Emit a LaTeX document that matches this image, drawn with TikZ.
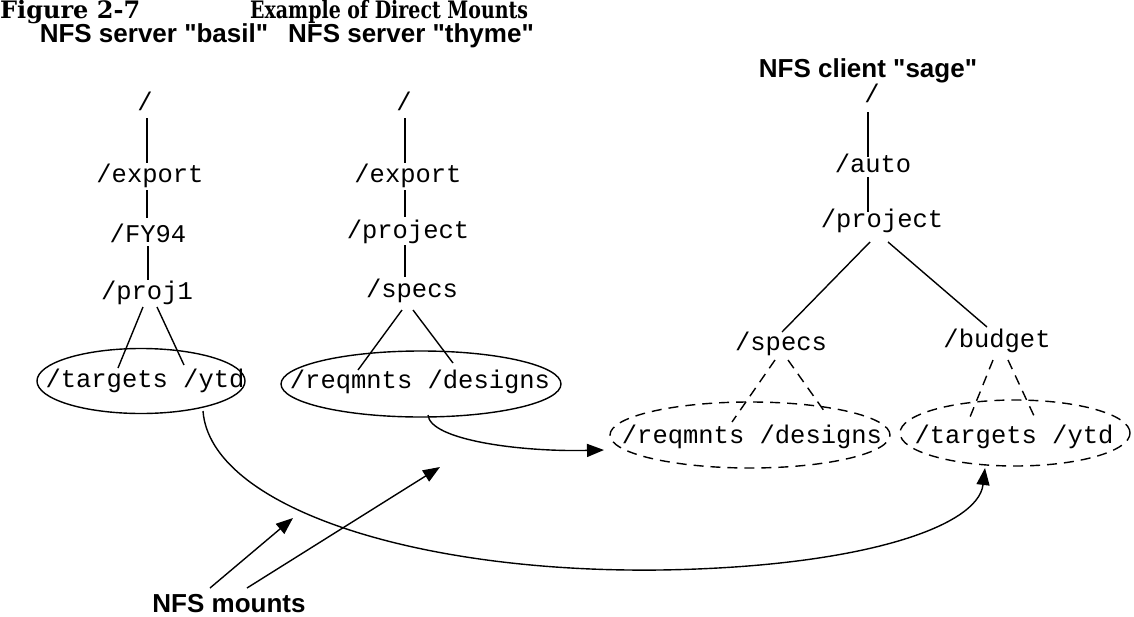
\documentclass[tikz,border=0pt]{standalone}
\usepackage{fontspec}
\setmainfont{DejaVu Serif}
\newfontfamily\figfont{DejaVu Serif}
\newfontfamily\exfont[FakeStretch=0.79]{DejaVu Serif}
\newfontfamily\lblfont{Liberation Sans}
\newfontfamily\dirfont{Liberation Mono}
\usetikzlibrary{arrows.meta,shapes.geometric}
\tikzset{
  titletext/.style={anchor=base west, inner sep=0pt},
  hdr/.style={font=\lblfont\fontsize{26}{26}\selectfont\bfseries, anchor=base, inner sep=0pt},
  dir/.style={font=\dirfont\fontsize{25.5}{25.5}\selectfont, anchor=base, inner sep=0pt},
  tree/.style={line width=1.4pt},
  dtree/.style={line width=1.4pt, dash pattern=on 10pt off 7pt},
  mnt/.style={ellipse, draw, line width=1.4pt, inner sep=0pt},
  mntd/.style={mnt, dash pattern=on 10pt off 7pt},
  arr/.style={line width=1.4pt, -{Triangle[length=17pt,width=13pt]}}
}
\begin{document}
\begin{tikzpicture}[x=1pt,y=-1pt]
\useasboundingbox (0,0) rectangle (1134,616);
% titles
\node[titletext, font=\figfont\fontsize{24}{24}\selectfont\bfseries] (fig) at (0,18) {Figure 2-7};
\node[titletext, font=\exfont\fontsize{24}{24}\selectfont\bfseries] (ttl) at (250,18) {Example of Direct Mounts};
\node[hdr] (hbasil) at (154,42) {NFS server "basil"};
\node[hdr] (hthyme) at (411,42) {NFS server "thyme"};
\node[hdr] (hsage) at (868,77) {NFS client "sage"};
\node[hdr] (hmnt) at (229,612) {NFS mounts};

% ellipses
\node[mnt, minimum width=208pt, minimum height=65pt] (be) at (141,381) {};
\node[mnt, minimum width=280pt, minimum height=66pt] (te) at (421,384) {};
\node[mntd, minimum width=280pt, minimum height=66pt] (se) at (750,435) {};
\node[mntd, minimum width=230pt, minimum height=66pt] (ge) at (1015,433) {};

% basil tree
\node[dir] (b0) at (145,110) {/};
\node[dir] (b1) at (150,182) {/export};
\node[dir] (b2) at (148,242) {/FY94};
\node[dir] (b3) at (147,299) {/proj1};
\node[dir] (b4) at (145,387) {/targets /ytd};
\coordinate (b01) at (147,118); \coordinate (b10) at (147,163);
\coordinate (b12) at (147,190); \coordinate (b21) at (147,218);
\coordinate (b23) at (148,246); \coordinate (b32) at (148,280);
\coordinate (b3l) at (143,307); \coordinate (btl) at (118,368);
\coordinate (b3r) at (157,307); \coordinate (bty) at (184,365);
\draw[tree] (b01) -- (b10);
\draw[tree] (b12) -- (b21);
\draw[tree] (b23) -- (b32);
\draw[tree] (b3l) -- (btl);
\draw[tree] (b3r) -- (bty);

% thyme tree
\node[dir] (t0) at (404,110) {/};
\node[dir] (t1) at (408,182) {/export};
\node[dir] (t2) at (408,238) {/project};
\node[dir] (t3) at (412,297) {/specs};
\node[dir] (t4) at (420,388) {/reqmnts /designs};
\coordinate (t01) at (405,118); \coordinate (t10) at (405,163);
\coordinate (t12) at (405,190); \coordinate (t21) at (405,217);
\coordinate (t23) at (405,245); \coordinate (t32) at (405,277);
\coordinate (t3l) at (402,310); \coordinate (ttr) at (358,370);
\coordinate (t3r) at (413,310); \coordinate (ttd) at (453,363);
\draw[tree] (t01) -- (t10);
\draw[tree] (t12) -- (t21);
\draw[tree] (t23) -- (t32);
\draw[tree] (t3l) -- (ttr);
\draw[tree] (t3r) -- (ttd);

% sage tree
\node[dir] (s0) at (872,102) {/};
\node[dir] (s1) at (873,172) {/auto};
\node[dir] (s2) at (882,227) {/project};
\node[dir] (s3) at (781,350) {/specs};
\node[dir] (s4) at (997,347) {/budget};
\node[dir] (s5) at (752,443) {/reqmnts /designs};
\node[dir] (s6) at (1014,443) {/targets /ytd};
\coordinate (s01) at (868,112); \coordinate (s10) at (868,157);
\coordinate (s12) at (868,177); \coordinate (s21) at (868,212);
\coordinate (s2l) at (870,242); \coordinate (s3t) at (782,332);
\coordinate (s2r) at (888,242); \coordinate (s4t) at (987,327);
\coordinate (s3l) at (775,360); \coordinate (s5r) at (732,422);
\coordinate (s3r) at (788,360); \coordinate (s5d) at (827,415);
\coordinate (s4l) at (993,360); \coordinate (s6t) at (968,422);
\coordinate (s4r) at (1008,360); \coordinate (s6y) at (1035,418);
\draw[tree] (s01) -- (s10);
\draw[tree] (s12) -- (s21);
\draw[tree] (s2l) -- (s3t);
\draw[tree] (s2r) -- (s4t);
\draw[dtree] (s3l) -- (s5r);
\draw[dtree] (s3r) -- (s5d);
\draw[dtree] (s4l) -- (s6t);
\draw[dtree] (s4r) -- (s6y);

% mount arrows
\coordinate (beo) at (203,411);
\coordinate (mid) at (660,570);
\coordinate (gei) at (985,468);
\draw[arr] (beo) .. controls (210,505) and (410,573) .. (mid)
                 .. controls (860,567) and (978,527) .. (gei);
\coordinate (teo) at (428,415);
\coordinate (sei) at (604,450);
\draw[arr] (teo) .. controls (430,440) and (520,452) .. (sei);

% NFS mounts pointers
\coordinate (m1s) at (210,588); \coordinate (m1e) at (293,518);
\coordinate (m2s) at (247,588); \coordinate (m2e) at (440,467);
\draw[arr] (m1s) -- (m1e);
\draw[arr] (m2s) -- (m2e);
\end{tikzpicture}
\end{document}
